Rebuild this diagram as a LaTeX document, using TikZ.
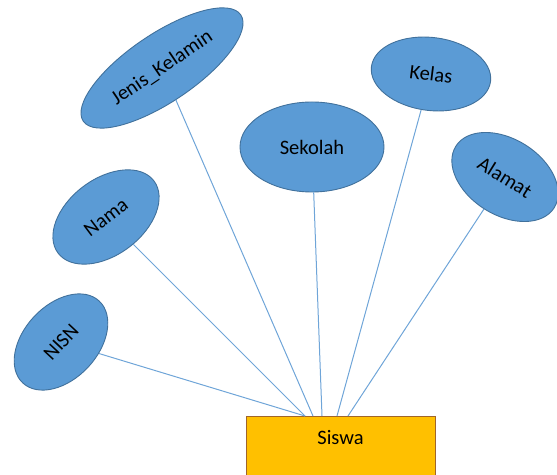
\documentclass[tikz,border=0pt]{standalone}
\usepackage{fontspec}
\setmainfont{Carlito}
\usetikzlibrary{shapes.geometric}
\definecolor{efill}{HTML}{5B9BD5}
\definecolor{edraw}{HTML}{41719C}
\definecolor{lcol}{HTML}{6FA5D8}
\definecolor{rfill}{HTML}{FFC000}
\definecolor{rdraw}{HTML}{A0652A}
\begin{document}
\begin{tikzpicture}[x=1pt,y=1pt,
  attr/.style={ellipse,fill=efill,draw=edraw,line width=0.9pt,inner sep=0pt,
     font=\fontsize{20.5}{24}\selectfont,text=black},
  conn/.style={draw=lcol,line width=1pt},
  entity/.style={rectangle,fill=rfill,draw=rdraw,line width=1pt,anchor=north,
     minimum width=189pt,minimum height=62pt,inner xsep=0pt,inner ysep=13pt,
     text height=15pt,text depth=21pt,font=\fontsize{20.5}{24}\selectfont,text=black}]
\useasboundingbox (0,0) rectangle (557,474);
\node[entity] (siswa) at (340.5,58) {Siswa};
\coordinate (t1) at (305,58);
\coordinate (t2) at (313,58);
\coordinate (t3) at (322,58);
\coordinate (t4) at (337,58);
\coordinate (t5) at (348,58);
\node[attr,minimum width=190pt,minimum height=68pt,rotate=34] (jk) at (162,406) {Jenis\_Kelamin};
\node[attr,minimum width=144pt,minimum height=90pt] (sek) at (312,327) {Sekolah};
\node[attr,minimum width=120pt,minimum height=73pt,rotate=-7] (kel) at (431,400) {Kelas};
\node[attr,minimum width=116pt,minimum height=76pt,rotate=-32] (ala) at (505,297) {Alamat};
\node[attr,minimum width=120pt,minimum height=76pt,rotate=37] (nama) at (106,257) {Nama};
\node[attr,minimum width=112pt,minimum height=74pt,rotate=47] (nisn) at (61,132) {NISN};
\draw[conn] (nisn) -- (t1);
\draw[conn] (nama) -- (t1);
\draw[conn] (jk) -- (t2);
\draw[conn] (sek) -- (t3);
\draw[conn] (kel) -- (t4);
\draw[conn] (ala) -- (t5);
\end{tikzpicture}
\end{document}
